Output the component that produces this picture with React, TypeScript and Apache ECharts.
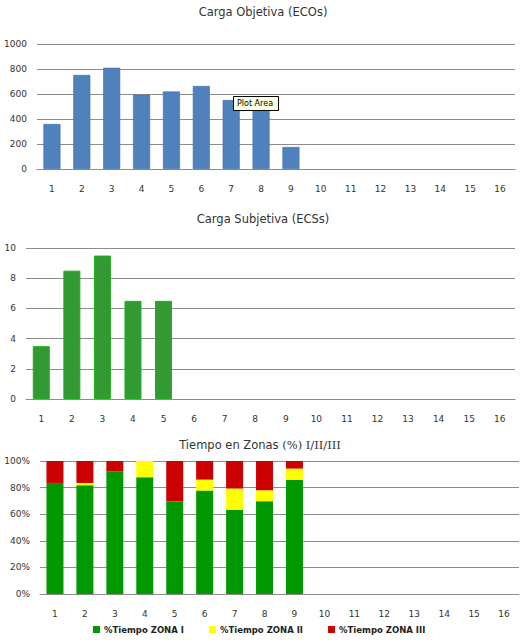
import React, { useEffect, useRef } from "react";
import * as echarts from "echarts";

const categories = ["1","2","3","4","5","6","7","8","9","10","11","12","13","14","15","16"];
const ecoValues = [360, 752, 810, 595, 620, 664, 552, 475, 176];
const ecsValues = [3.5, 8.5, 9.5, 6.5, 6.5];
const zona1 = [83.5, 81.8, 92.3, 87.8, 69.6, 77.8, 63.3, 69.8, 85.8];
const zona2 = [0, 1.7, 0, 12.2, 0, 8.2, 16, 8.2, 8.5];
const zona3 = [16.5, 16.5, 7.7, 0, 30.4, 14, 20.7, 22, 5.7];
const titles = ["Carga Objetiva (ECOs)", "Carga Subjetiva (ECSs)"];
const legendNames = ["%Tiempo ZONA I", "%Tiempo ZONA II", "%Tiempo ZONA III"];

const FONT = "DejaVu Sans";
const GRID_COLOR = "#8c8c8c";
const TEXT = "#333333";

export default function App() {
  const ref = useRef<HTMLDivElement>(null);
  useEffect(() => {
    document.body.style.margin = "0";
    const chart = echarts.init(ref.current!, null, { renderer: "svg" });
    const xAxisBase = (gridIndex: number) => ({
      type: "category" as const,
      gridIndex,
      data: categories,
      boundaryGap: true,
      axisLine: { show: true, lineStyle: { color: GRID_COLOR, width: 1 } },
      axisTick: { show: false },
      axisLabel: { color: TEXT, fontFamily: FONT, fontSize: 9, margin: 15, interval: 0 },
    });
    const yAxisBase = (gridIndex: number) => ({
      type: "value" as const,
      gridIndex,
      axisLine: { show: false },
      axisTick: { show: false },
      splitLine: { show: true, lineStyle: { color: GRID_COLOR, width: 1 } },
      axisLabel: { color: TEXT, fontFamily: FONT, fontSize: 9, margin: 10, formatter: (v: number) => String(v) },
    });
    chart.setOption({
      animation: false,
      backgroundColor: "#ffffff",
      title: [
        { text: titles[0], left: 258, top: 1, textAlign: "center",
          textStyle: { fontFamily: FONT, fontSize: 11.5, fontWeight: "normal", color: TEXT } },
        { text: titles[1], left: 258, top: 208, textAlign: "center",
          textStyle: { fontFamily: FONT, fontSize: 11.5, fontWeight: "normal", color: TEXT } },
        { text: "{a|Tiempo en Zonas }{b|(%) I/II/III}", left: 255, top: 434, textAlign: "center",
          textStyle: {
            fontWeight: "normal",
            rich: {
              a: { fontFamily: FONT, fontSize: 11.5, fontWeight: "normal", color: TEXT },
              b: { fontFamily: "DejaVu Serif", fontSize: 11.5, fontWeight: "normal", color: TEXT },
            },
          } },
      ],
      grid: [
        { left: 37, right: 11, top: 44, height: 125 },
        { left: 26, right: 11, top: 248, height: 151 },
        { left: 40, right: 7, top: 461, height: 133 },
      ],
      xAxis: [xAxisBase(0), xAxisBase(1), xAxisBase(2)],
      yAxis: [
        { ...yAxisBase(0), min: 0, max: 1000, interval: 200 },
        { ...yAxisBase(1), min: 0, max: 10, interval: 2 },
        { ...yAxisBase(2), min: 0, max: 100, interval: 20,
          axisLabel: { color: TEXT, fontFamily: FONT, fontSize: 9, margin: 10, formatter: "{value}%" } },
      ],
      legend: {
        data: legendNames,
        left: 93,
        top: 625,
        padding: 0,
        itemWidth: 7,
        itemHeight: 7,
        itemGap: 25,
        icon: "rect",
        textStyle: { fontFamily: FONT, fontSize: 8.5, fontWeight: "bold", color: "#222222", padding: [0, 0, 0, -1] },
      },
      series: [
        { type: "bar", xAxisIndex: 0, yAxisIndex: 0, data: ecoValues, barWidth: 17,
          itemStyle: { color: "#4f81bd", borderColor: "#3d6ea8", borderWidth: 0.6 } },
        { type: "bar", xAxisIndex: 1, yAxisIndex: 1, data: ecsValues, barWidth: 17,
          itemStyle: { color: "#339933", borderColor: "#1fb01f", borderWidth: 1 } },
        { name: legendNames[0], type: "bar", stack: "z", xAxisIndex: 2, yAxisIndex: 2, data: zona1, barWidth: 17,
          itemStyle: { color: "#009900" } },
        { name: legendNames[1], type: "bar", stack: "z", xAxisIndex: 2, yAxisIndex: 2, data: zona2, barWidth: 17,
          itemStyle: { color: "#ffff00" } },
        { name: legendNames[2], type: "bar", stack: "z", xAxisIndex: 2, yAxisIndex: 2, data: zona3, barWidth: 17,
          itemStyle: { color: "#cc0000" } },
      ],
      graphic: [
        { type: "rect", shape: { x: 233.5, y: 96.5, width: 45, height: 14 },
          style: { fill: "#ffffe1", stroke: "#000000", lineWidth: 1 }, z: 100 },
        { type: "text", x: 237, y: 99, z: 101,
          style: { text: "Plot Area", fill: "#000000", font: "8px DejaVu Sans" } },
      ],
    });
    return () => chart.dispose();
  }, []);
  return <div ref={ref} style={{ width: 526, height: 640 }} />;
}
